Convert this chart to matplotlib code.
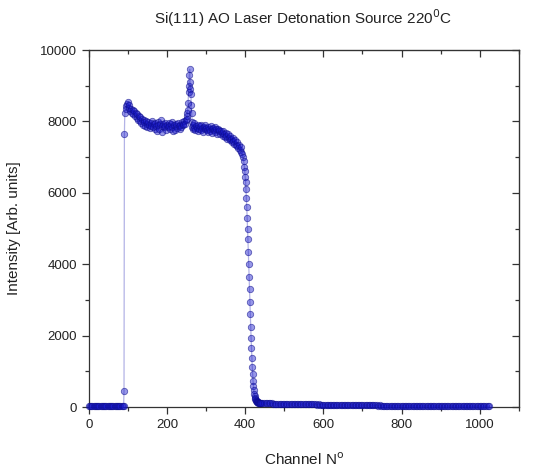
import numpy as np
import matplotlib
matplotlib.use("Agg")
import matplotlib.pyplot as plt

plt.rcParams['font.family'] = ['Liberation Sans', 'DejaVu Sans']

# baseline before the surface edge, every 3rd channel from 0
base_counts = [35, 30, 38, 32, 28, 36, 33, 30, 37, 31, 29, 34, 36, 30, 33,
               38, 31, 29, 35, 32, 30, 37, 34, 28, 33, 36, 31, 30, 35, 40]

# the jump at the surface
jump_ch = [89, 90, 91]
jump_counts = [45, 450, 7650]

# plateau, every 2nd channel from 92 to 250
plat1_counts = [8250, 8420, 8350, 8500, 8550,
                8380, 8450, 8300, 8360, 8250, 8320, 8200, 8280, 8150, 8230,
                8100, 8200, 8050, 8150, 8000, 8120, 7950, 8080, 7900, 8050,
                7980, 7880, 8020, 7930, 7850,
                7980, 7900, 7820, 7960, 7880, 8000, 7850, 7920, 7780, 7950,
                7870, 7730, 7980, 7900, 7800, 7940, 8050, 7860, 7700, 7920,
                7850, 7970, 7880, 7760, 7900,
                7840, 7950, 7870, 7780, 7920, 7850, 7990, 7720, 7900, 7760,
                7880, 7930, 7830, 7960, 7870, 7800, 7910, 7850, 7980, 7890,
                7940, 8010, 7920, 8050, 8080]

# oxygen peak, every channel from 251 to 267
peak_counts = [8150, 8240, 8320, 8520, 8830, 8990, 9300, 9460, 9110, 8920,
               8780, 8460, 8250, 7990, 7850, 7780, 7900]

# plateau after the peak, every 2nd channel from 268 to 398
plat2_counts = [7820, 7950, 7760, 7880, 7830, 7720, 7900, 7800, 7860, 7750,
                7890, 7810, 7700, 7850, 7780, 7900, 7820,
                7760, 7850, 7700, 7800, 7740, 7880, 7780, 7690, 7820, 7750,
                7840, 7700, 7780, 7650, 7800, 7720, 7760, 7640, 7730, 7680,
                7600, 7720, 7650, 7560, 7680, 7600, 7520, 7640, 7550, 7480,
                7600, 7500, 7420, 7550, 7450,
                7380, 7480, 7350, 7420, 7300, 7250, 7350, 7200, 7280, 7150,
                7100, 7000, 6900, 6720]

# falling edge, every channel from 399
edge_counts = [6600, 6450, 6300, 6100, 5850, 5600, 5300, 5000, 4700, 4350,
               4000, 3650, 3300, 2950, 2600, 2250, 1950, 1650, 1380, 1130,
               920, 740, 590, 470, 380, 310, 260, 220, 195, 175,
               160, 150, 142, 136, 132, 128, 125, 122, 120, 118, 116, 115]

# tail, every 4th channel from 444
tail_counts = [112, 108, 110, 105, 107, 103, 104, 100, 102, 98, 99, 96, 97,
               94, 95, 92, 93, 90, 91, 88, 89, 86, 87, 85, 84,
               82, 83, 80, 81, 79, 78, 79, 76, 77, 75, 74, 75, 72, 73, 71,
               70, 71, 68, 69, 67, 66, 67, 64, 65, 63, 62, 63, 61, 60, 61,
               59, 58, 58, 57, 56, 57, 55, 54, 55, 53,
               52, 53, 51, 50, 51, 49, 48, 49, 47, 46, 47, 45, 46, 44, 45,
               43, 44, 42, 43, 41, 42, 40, 41, 40, 39, 40, 38, 39, 37, 38,
               37, 36, 37, 35, 36, 35, 34, 35, 33, 34,
               33, 34, 32, 33, 32, 31, 32, 30, 31, 30, 29, 30, 29, 28, 29,
               28, 27, 28, 27, 26, 27, 26, 25, 26, 25, 24, 25, 24, 23, 24,
               23, 22, 23, 22, 21, 22, 21, 20, 21, 20, 20]

channel = np.concatenate([
    0 + 3 * np.arange(len(base_counts)),
    jump_ch,
    92 + 2 * np.arange(len(plat1_counts)),
    251 + np.arange(len(peak_counts)),
    268 + 2 * np.arange(len(plat2_counts)),
    399 + np.arange(len(edge_counts)),
    444 + 4 * np.arange(len(tail_counts)),
])
counts = np.concatenate([base_counts, jump_counts, plat1_counts, peak_counts,
                         plat2_counts, edge_counts, tail_counts])

fig = plt.figure(figsize=(5.45, 4.68), dpi=100)
ax = fig.add_axes([0.163, 0.130, 0.789, 0.763])

ax.plot(channel, counts, '-', color=(0.7, 0.7, 0.9), lw=0.9, zorder=2)
ax.plot(channel, counts, 'o', ms=4.6, mfc=(0.1, 0.1, 0.8, 0.45),
        mec=(0.05, 0.05, 0.55, 0.6), mew=0.6, ls='none', zorder=3, clip_on=False)

ax.set_xlim(0, 1100)
ax.set_ylim(0, 10000)
ax.set_xticks(np.arange(0, 1001, 200))
ax.set_xticks(np.arange(0, 1101, 100), minor=True)
ax.set_yticks(np.arange(0, 10001, 2000))
ax.set_yticks(np.arange(0, 10001, 1000), minor=True)

txt = '#222222'
ax.tick_params(which='both', direction='out', colors='#333333',
               labelcolor=txt, labelsize=9.5, width=0.9)
ax.tick_params(which='major', length=5)
ax.tick_params(which='minor', length=3)

top = ax.secondary_xaxis('top')
top.set_xticks(np.arange(0, 1001, 200))
top.set_xticks(np.arange(0, 1101, 100), minor=True)
top.tick_params(which='both', direction='in', labeltop=False, colors='#333333', width=0.9)
top.tick_params(which='major', length=5)
top.tick_params(which='minor', length=3)

right = ax.secondary_yaxis('right')
right.set_yticks(np.arange(0, 10001, 2000))
right.set_yticks(np.arange(0, 10001, 1000), minor=True)
right.tick_params(which='both', direction='in', labelright=False, colors='#333333', width=0.9)
right.tick_params(which='major', length=5)
right.tick_params(which='minor', length=3)

for s in ax.spines.values():
    s.set_color('#333333')
    s.set_linewidth(0.9)

ax.set_xlabel(r'Channel N$^{\mathrm{o}}$', fontsize=11, color=txt)
ax.xaxis.set_label_coords(0.5, -0.125)
ax.set_ylabel('Intensity [Arb. units]', fontsize=11, color=txt)
ax.yaxis.set_label_coords(-0.158, 0.5)

fig.text(0.555, 0.962, r'Si(111) AO Laser Detonation Source 220$^{\mathrm{0}}$C',
         ha='center', va='center', fontsize=11, color=txt)

fig.savefig('out.png', dpi=100)
